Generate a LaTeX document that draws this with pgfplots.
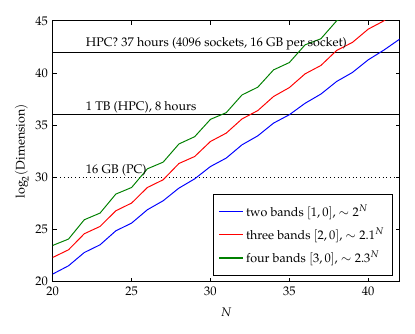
\documentclass[border=0pt]{standalone}
\usepackage[T1]{fontenc}
\usepackage{mathpazo}
\usepackage{pgfplots}
\pgfplotsset{compat=1.18}

\pgfplotstableread{
N  two    three  four
20 20.74  22.33  23.48
21 21.53  23.06  24.09
22 22.80  24.60  25.94
23 23.54  25.30  26.58
24 24.88  26.80  28.40
25 25.62  27.54  29.03
26 26.90  29.03  30.82
27 27.76  29.77  31.46
28 28.97  31.33  33.20
29 29.86  32.00  33.90
30 31.04  33.44  35.56
31 31.85  34.24  36.20
32 33.12  35.60  37.90
33 33.98  36.40  38.64
34 35.20  37.75  40.30
35 36.00  38.60  41.00
36 37.10  39.92  42.70
37 37.98  40.72  43.28
38 39.19  42.16  45.00
39 40.05  42.93  45.70
40 41.26  44.20  47.30
41 42.20  45.00  48.00
42 43.25  46.30  49.50
}\bands

\definecolor{mplblue}{rgb}{0,0,1}
\definecolor{mplred}{rgb}{1,0,0}
\definecolor{mplgreen}{rgb}{0,0.5,0}

\begin{document}
\begin{tikzpicture}[font=\fontsize{9}{10}\selectfont]
\begin{axis}[
  scale only axis,
  width=250pt, height=188pt,
  xmin=20, xmax=42, ymin=20, ymax=45,
  xtick={20,25,30,35,40},
  ytick={20,25,30,35,40,45},
  tick align=inside,
  major tick length=3pt,
  tick style={black, line width=0.5pt},
  axis line style={line width=0.6pt},
  xlabel={$N$},
  ylabel={$\log_2(\mathrm{Dimension})$},
  xlabel style={yshift=-2pt},
  ylabel style={yshift=-2pt},
  legend cell align=left,
  legend style={
    at={(0.98,0.025)}, anchor=south east,
    inner xsep=4pt, inner ysep=4pt,
    nodes={inner ysep=3.5pt},
  },
  legend image post style={line width=0.9pt},
]
% reference lines
\addplot[black, line width=0.7pt, forget plot] coordinates {(20,42) (42,42)};
\addplot[black, line width=0.7pt, forget plot] coordinates {(20,36) (42,36)};
\addplot[black, line width=0.7pt, dotted, forget plot] coordinates {(20,30) (42,30)};

% band series
\addplot[mplblue, line width=0.7pt] table[x=N, y=two] {\bands};
\addlegendentry{two bands $[1,0]$, $\sim 2^N$}
\addplot[mplred, line width=0.7pt] table[x=N, y=three] {\bands};
\addlegendentry{three bands $[2,0]$, $\sim 2.1^N$}
\addplot[mplgreen, line width=0.7pt] table[x=N, y=four] {\bands};
\addlegendentry{four bands $[3,0]$, $\sim 2.3^N$}

\node[anchor=south west, inner sep=1pt] at (axis cs:22,42) {HPC? 37 hours (4096 sockets, 16 GB per socket)};
\node[anchor=south west, inner sep=1pt] at (axis cs:22,36) {1 TB (HPC), 8 hours};
\node[anchor=south west, inner sep=1pt] at (axis cs:22,30) {16 GB (PC)};
\end{axis}
\path (current axis.south west) ++(-38pt,-37pt) (current axis.north east) ++(11pt,15pt);
\end{tikzpicture}
\end{document}
